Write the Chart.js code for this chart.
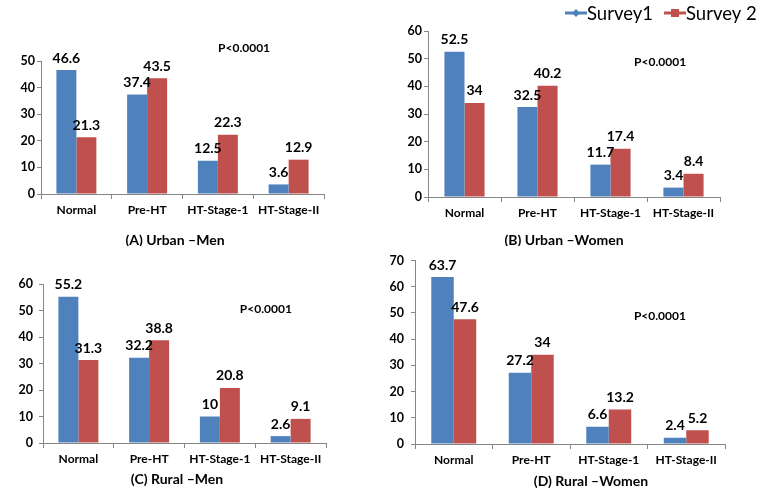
<!DOCTYPE html>
<html>
<head>
<meta charset="utf-8">
<script src="https://cdn.jsdelivr.net/npm/chart.js@4.4.0/dist/chart.umd.min.js"></script>
<style>
  body { margin: 0; background: #fff; width: 767px; height: 492px; position: relative; overflow: hidden; }
  canvas { position: absolute; }
</style>
</head>
<body>
<canvas id="cA" width="383" height="246" style="left:0;top:0"></canvas>
<canvas id="cB" width="384" height="246" style="left:383px;top:0"></canvas>
<canvas id="cC" width="383" height="246" style="left:0;top:246px"></canvas>
<canvas id="cD" width="384" height="246" style="left:383px;top:246px"></canvas>
<script>
// ---- data ----
const categories = ['Normal', 'Pre-HT', 'HT-Stage-1', 'HT-Stage-II'];
const seriesNames = ['Survey1', 'Survey 2'];

const urbanMen1 = [46.6, 37.4, 12.5, 3.6];
const urbanMen2 = [21.3, 43.5, 22.3, 12.9];
const urbanWomen1 = [52.5, 32.5, 11.7, 3.4];
const urbanWomen2 = [34, 40.2, 17.4, 8.4];
const ruralMen1 = [55.2, 32.2, 10, 2.6];
const ruralMen2 = [31.3, 38.8, 20.8, 9.1];
const ruralWomen1 = [63.7, 27.2, 6.6, 2.4];
const ruralWomen2 = [47.6, 34, 13.2, 5.2];

const panelTitles = ['(A) Urban \u2013Men', '(B) Urban \u2013Women', '(C) Rural \u2013Men', '(D) Rural \u2013Women'];
const yMaxes = [50, 60, 60, 70];
const pText = 'P<0.0001';

const blue = '#4F81BD', red = '#C0504D', axisCol = '#868686';
const FONT = 'Lato, sans-serif';

// extra drawing: value labels, p-value note, panel caption, legend
const extras = {
  id: 'extras',
  afterDraw(chart) {
    const o = chart.options.plugins.extras;
    const ctx = chart.ctx;
    ctx.save();
    ctx.fillStyle = '#000';
    ctx.textAlign = 'center';
    ctx.textBaseline = 'bottom';
    ctx.font = 'bold 14px ' + FONT;
    chart.data.datasets.forEach((ds, di) => {
      chart.getDatasetMeta(di).data.forEach((bar, i) => {
        ctx.fillText(String(ds.data[i]), bar.x, bar.y - 5);
      });
    });
    const xs = chart.scales.x, ys = chart.scales.y;
    ctx.textBaseline = 'middle';
    ctx.font = 'bold 12px ' + FONT;
    ctx.fillText(pText, xs.getPixelForValue(o.pX), ys.getPixelForValue(o.pY));
    ctx.font = 'bold 14px ' + FONT;
    ctx.fillText(o.title, o.titleX, o.titleY);

    if (o.legend) {
      ctx.textAlign = 'left';
      ctx.font = '18.5px ' + FONT;
      let x = o.legend.x;
      const y = o.legend.y;
      chart.data.datasets.forEach((ds, di) => {
        ctx.strokeStyle = ds.backgroundColor;
        ctx.fillStyle = ds.backgroundColor;
        ctx.lineWidth = 3;
        ctx.beginPath(); ctx.moveTo(x, y); ctx.lineTo(x + 22, y); ctx.stroke();
        const cx = x + 11;
        ctx.beginPath();
        if (di === 0) {
          ctx.moveTo(cx, y - 4); ctx.lineTo(cx + 4, y); ctx.lineTo(cx, y + 4); ctx.lineTo(cx - 4, y);
        } else {
          ctx.rect(cx - 4, y - 4, 8, 8);
        }
        ctx.fill();
        ctx.fillStyle = '#000';
        ctx.fillText(ds.label, x + 22, y + 1);
        x += 99;
      });
    }
    ctx.restore();
  }
};

function makeChart(id, s1, s2, idx, lay) {
  new Chart(document.getElementById(id), {
    type: 'bar',
    data: {
      labels: categories,
      datasets: [
        { label: seriesNames[0], data: s1, backgroundColor: blue },
        { label: seriesNames[1], data: s2, backgroundColor: red }
      ]
    },
    options: {
      responsive: false,
      animation: false,
      devicePixelRatio: 1,
      categoryPercentage: lay.cat,
      barPercentage: 1,
      layout: { padding: { left: 0, top: lay.top, right: lay.w - lay.right, bottom: 0 } },
      scales: {
        x: {
          grid: { offset: true, drawOnChartArea: false, tickLength: 5, color: axisCol },
          border: { color: axisCol },
          ticks: { color: '#000', font: { family: FONT, weight: 'bold', size: 12 }, padding: 4, maxRotation: 0 },
          afterFit: (s) => { s.height = lay.h - lay.bottom; }
        },
        y: {
          min: 0, max: yMaxes[idx],
          grid: { drawOnChartArea: false, tickLength: 4, color: axisCol },
          border: { color: axisCol },
          ticks: { stepSize: 10, color: '#000', font: { family: FONT, weight: 'bold', size: 12.5 }, padding: lay.tp },
          afterFit: (s) => { s.width = lay.left; }
        }
      },
      plugins: {
        legend: { display: false },
        tooltip: { enabled: false },
        extras: {
          title: panelTitles[idx], titleX: lay.tx, titleY: lay.ty,
          pX: lay.pX, pY: lay.pY, legend: lay.legend
        }
      }
    },
    plugins: [extras]
  });
}

makeChart('cA', urbanMen1, urbanMen2, 0,
  { w: 383, h: 246, left: 41, right: 324, top: 61, bottom: 194, cat: 0.565, tp: 2, tx: 175, ty: 240, pX: 2.37, pY: 54.9 });
makeChart('cB', urbanWomen1, urbanWomen2, 1,
  { w: 384, h: 246, left: 45, right: 337, top: 31, bottom: 197, cat: 0.55, tp: 2, tx: 181, ty: 240, pX: 2.68, pY: 48.8,
    legend: { x: 182, y: 13 } });
makeChart('cC', ruralMen1, ruralMen2, 2,
  { w: 383, h: 246, left: 43, right: 326, top: 38, bottom: 197, cat: 0.565, tp: 6, tx: 177, ty: 233, pX: 2.65, pY: 50.6 });
makeChart('cD', ruralWomen1, ruralWomen2, 3,
  { w: 384, h: 246, left: 32, right: 342, top: 10, bottom: 198, cat: 0.58, tp: 7, tx: 208, ty: 235, pX: 2.66, pY: 48.8 });
</script>
</body>
</html>
